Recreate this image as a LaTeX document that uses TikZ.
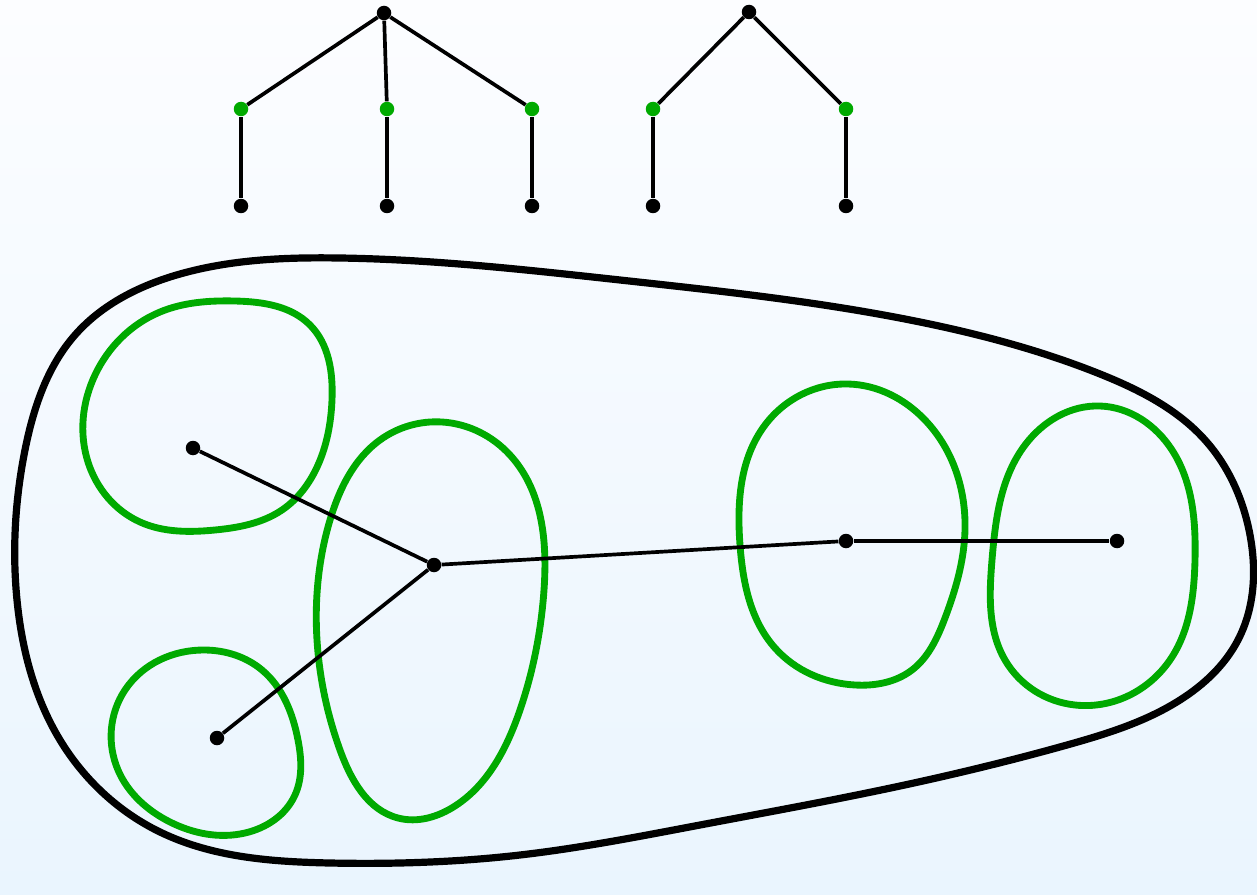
\documentclass[tikz,border=0pt]{standalone}
\usepackage{tikz}
\usetikzlibrary{positioning, hobby}
\definecolor{BlobGreen}{RGB}{0,170,0}
\definecolor{SkyTop}{RGB}{252,253,255}
\definecolor{SkyBottom}{RGB}{234,245,254}
\tikzset{
  vtx/.style={circle, fill=black, inner sep=0pt, minimum size=0.29cm},
  gvtx/.style={circle, fill=BlobGreen, inner sep=0pt, minimum size=0.29cm},
  edge/.style={line width=2.1pt, black},
  blob/.style={line width=3.9pt, BlobGreen, line join=round, use Hobby shortcut, closed=true},
  hull/.style={line width=4.1pt, black, line join=round, use Hobby shortcut, closed=true},
}
\begin{document}
\begin{tikzpicture}[x=0.02cm, y=-0.02cm]
  % background
  \shade[top color=SkyTop, bottom color=SkyBottom] (0,0) rectangle (1257,895);
  \useasboundingbox (0,0) rectangle (1257,895);
  % first tree
  \node[vtx] (r1) at (384,13) {};
  \foreach \x [count=\i] in {241,387,532} {
    \node[gvtx] (m1\i) at (\x,109) {};
    \node[vtx] (l1\i) at (\x,206) {};
    \draw[edge] (r1) -- (m1\i);
    \draw[edge] (m1\i) -- (l1\i);
  }
  % second tree
  \node[vtx] (r2) at (749,12) {};
  \foreach \x [count=\i] in {653,846} {
    \node[gvtx] (m2\i) at (\x,109) {};
    \node[vtx] (l2\i) at (\x,206) {};
    \draw[edge] (r2) -- (m2\i);
    \draw[edge] (m2\i) -- (l2\i);
  }
  % outer curve
  \draw[hull] (340,258) .. (620,280) .. (920,322) .. (1100,374) .. (1205,440)
    .. (1250,535) .. (1238,640) .. (1180,700) .. (1067,745) .. (900,786)
    .. (700,825) .. (520,855) .. (330,863) .. (160,832) .. (60,740)
    .. (17,600) .. (25,450) .. (75,335) .. (180,274);
  % green blobs
  \draw[blob] (235,301) .. (310,325) .. (332,400) .. (318,465) .. (282,510)
    .. (215,530) .. (140,522) .. (88,462) .. (95,375) .. (160,312);
  \draw[blob] (205,650) .. (262,670) .. (298,740) .. (295,795) .. (245,833)
    .. (170,822) .. (118,770) .. (125,690);
  \draw[blob] (442,422) .. (510,455) .. (544,590) .. (520,710) .. (455,806)
    .. (398,818) .. (340,750) .. (317,640) .. (330,520) .. (380,440);
  \draw[blob] (848,384) .. (925,420) .. (965,530) .. (945,618) .. (912,670)
    .. (855,685) .. (775,648) .. (740,545) .. (765,425);
  \draw[blob] (1100,406) .. (1172,450) .. (1195,560) .. (1170,660)
    .. (1075,705) .. (1005,660) .. (992,560) .. (1025,445);
  % inner vertices
  \node[vtx] (a) at (193,448) {};
  \node[vtx] (b) at (217,738) {};
  \node[vtx] (c) at (434,565) {};
  \node[vtx] (d) at (846,541) {};
  \node[vtx] (e) at (1117,541) {};
  \draw[edge] (a) -- (c);
  \draw[edge] (b) -- (c);
  \draw[edge] (c) -- (d);
  \draw[edge] (d) -- (e);
\end{tikzpicture}
\end{document}
